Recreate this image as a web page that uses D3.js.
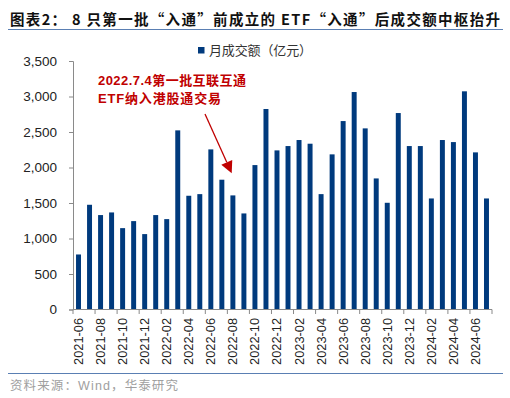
<!DOCTYPE html>
<html><head><meta charset="utf-8">
<script src="https://cdn.jsdelivr.net/npm/d3@7"></script>
<style>
html,body{margin:0;padding:0;background:#fff;}
svg{display:block;}
</style>
</head><body>
<svg id="chart" width="510" height="398"></svg>
<script>
const months = ["2021-06","2021-07","2021-08","2021-09","2021-10","2021-11","2021-12",
"2022-01","2022-02","2022-03","2022-04","2022-05","2022-06","2022-07","2022-08","2022-09","2022-10","2022-11","2022-12",
"2023-01","2023-02","2023-03","2023-04","2023-05","2023-06","2023-07","2023-08","2023-09","2023-10","2023-11","2023-12",
"2024-01","2024-02","2024-03","2024-04","2024-05","2024-06","2024-07"];
const turnover = [775,1475,1330,1367,1146,1245,1062,1330,1273,2523,1602,1625,2255,1828,1607,1353,2034,
2824,2241,2302,2387,2335,1625,2185,2654,3063,2551,1846,1503,2767,2302,2302,1564,2387,2358,3073,2213,1564];
const yTicks = [0,500,1000,1500,2000,2500,3000,3500];
const titleText = "图表2： 8 只第一批“入通”前成立的 ETF“入通”后成交额中枢抬升";
const legendText = "月成交额（亿元）";
const noteLines = ["2022.7.4第一批互联互通","ETF纳入港股通交易"];
const sourceText = "资料来源：Wind，华泰研究";

const svg = d3.select("#chart");
const barColor = "#003a7d";
const lineColor = "#5a7fb3";
const latin = "'Liberation Sans', Arial, sans-serif";
const cjk = "'Liberation Sans', 'Noto Sans CJK SC', sans-serif";
const cjkFirst = "'Noto Sans CJK SC', sans-serif";

const x = d3.scaleBand().domain(months).range([73, 492]).paddingInner(0.55).paddingOuter(0.275);
const y = d3.scaleLinear().domain([0, 3500]).range([309.5, 61]);

// title
svg.append("text").attr("x", 10).attr("y", 25)
  .attr("font-family", cjkFirst).attr("font-weight", "bold").attr("font-size", 14.5)
  .attr("fill", "#111").attr("textLength", 490).attr("lengthAdjust", "spacing")
  .style("white-space", "pre").text(titleText);
svg.append("line").attr("x1", 8).attr("x2", 503).attr("y1", 29.5).attr("y2", 29.5)
  .attr("stroke", lineColor).attr("stroke-width", 1.2);

// legend
svg.append("rect").attr("x", 198).attr("y", 47).attr("width", 6.5).attr("height", 6.5).attr("fill", barColor);
svg.append("text").attr("x", 209).attr("y", 50.5).attr("dy", "0.35em")
  .attr("font-family", cjkFirst).attr("font-size", 13).attr("fill", "#333")
  .attr("textLength", 103).attr("lengthAdjust", "spacing").text(legendText);

// bars
svg.append("g").selectAll("rect").data(months).join("rect")
  .attr("x", (d) => x(d))
  .attr("width", x.bandwidth())
  .attr("y", (d, i) => y(turnover[i]))
  .attr("height", (d, i) => y(0) - y(turnover[i]))
  .attr("fill", barColor);

// y axis
const yAxis = svg.append("g").attr("transform", "translate(73,0)")
  .call(d3.axisLeft(y).tickValues(yTicks).tickFormat(d3.format(",")).tickSize(4).tickPadding(12));
yAxis.select(".domain").attr("stroke", "#8a8a8a");
yAxis.selectAll(".tick line").attr("stroke", "#8a8a8a");
yAxis.selectAll("text").attr("font-family", latin).attr("font-size", 13.5).attr("fill", "#222");

// x axis
const step = x.step();
const xg = svg.append("g");
xg.append("line").attr("x1", 73).attr("x2", 492).attr("y1", 309.5).attr("y2", 309.5).attr("stroke", "#8a8a8a");
const tickPos = d3.range(0, months.length + 1, 2).map((i) => 73 + i * step);
xg.selectAll(".xt").data(tickPos).join("line").attr("class", "xt")
  .attr("x1", (d) => d).attr("x2", (d) => d).attr("y1", 309.5).attr("y2", 314)
  .attr("stroke", "#8a8a8a");
xg.selectAll(".xl").data(months.filter((d, i) => i % 2 === 0)).join("text").attr("class", "xl")
  .attr("transform", (d) => `translate(${x(d) + x.bandwidth() / 2},318) rotate(-90)`)
  .attr("text-anchor", "end").attr("dy", "0.35em")
  .attr("font-family", latin).attr("font-size", 12.8).attr("fill", "#222")
  .text((d) => d);

// annotation
const note = svg.append("g").attr("font-family", cjk).attr("font-weight", "bold")
  .attr("font-size", 13).attr("fill", "#c00000");
note.append("text").attr("x", 98).attr("y", 80).attr("dy", "0.35em")
  .attr("textLength", 148).attr("lengthAdjust", "spacing").text(noteLines[0]);
note.append("text").attr("x", 98).attr("y", 98.5).attr("dy", "0.35em")
  .attr("textLength", 123).attr("lengthAdjust", "spacing").text(noteLines[1]);
const sx = 205, sy = 114, tx = 231.7, ty = 173.3;
const len = Math.hypot(tx - sx, ty - sy), ux = (tx - sx) / len, uy = (ty - sy) / len;
const hl = 12, hw = 6;
const bx = tx - ux * hl, by = ty - uy * hl;
svg.append("line").attr("x1", sx).attr("y1", sy).attr("x2", bx).attr("y2", by)
  .attr("stroke", "#c00000").attr("stroke-width", 1.3);
svg.append("polygon").attr("points", [[tx, ty], [bx - uy * hw, by + ux * hw], [bx + uy * hw, by - ux * hw]].map((p) => p.join(",")).join(" "))
  .attr("fill", "#c00000");

// source
svg.append("line").attr("x1", 8).attr("x2", 503).attr("y1", 373.5).attr("y2", 373.5)
  .attr("stroke", lineColor).attr("stroke-width", 1.2);
svg.append("text").attr("x", 10).attr("y", 386).attr("dy", "0.35em")
  .attr("font-family", cjk).attr("font-size", 12.5).attr("fill", "#a0a0a0")
  .attr("textLength", 168).attr("lengthAdjust", "spacing").text(sourceText);
</script>
</body></html>
